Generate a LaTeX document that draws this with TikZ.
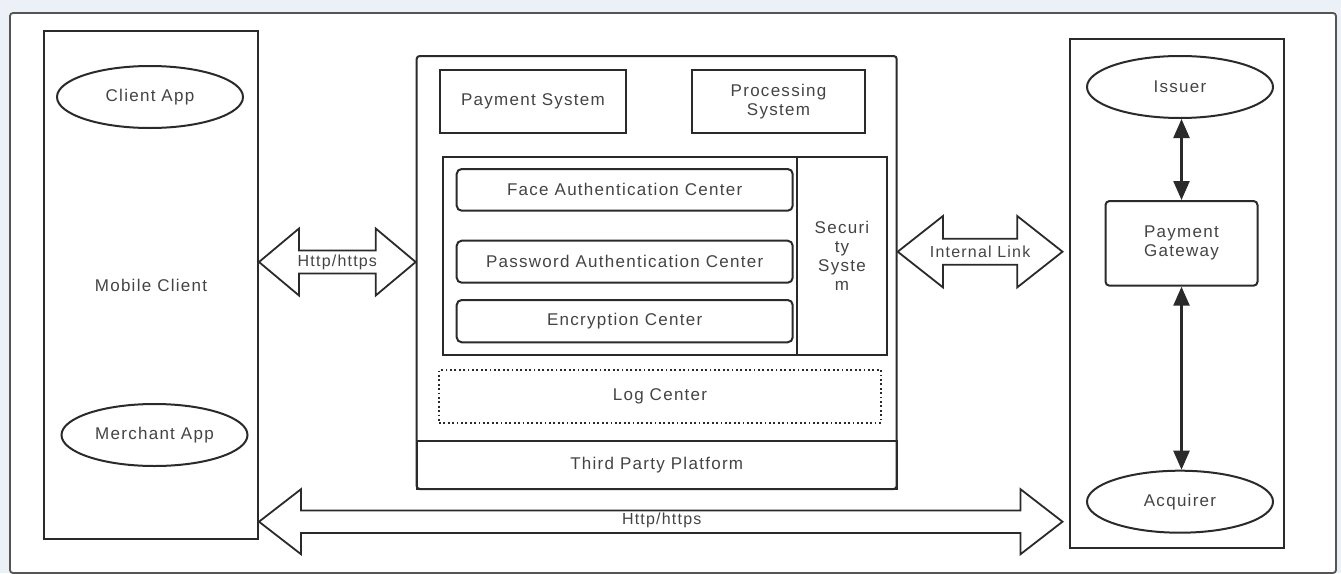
\documentclass[tikz,border=0pt]{standalone}
\usepackage{fontspec}
\setmainfont{Liberation Sans}[LetterSpace=7.5]
\usetikzlibrary{shapes.geometric,arrows.meta,calc}
\definecolor{linec}{HTML}{2A2A2A}
\definecolor{textc}{HTML}{444444}
\definecolor{bgc}{HTML}{EBF1F7}
\definecolor{framec}{HTML}{555555}
\newcommand\fsn{\fontsize{17}{19}\selectfont}
\newcommand\fsl{\fontsize{16}{19}\selectfont}
\newcommand\fatarrow[5]{%
  \draw[fatarr] let \p1=#1, \p2=#2, \n1={\x2-\x1-2*#3} in
  (\p1) -- ++(#3pt,#4pt) -- ++(0pt,{(#5-#4)*1pt}) -- ++({\n1*1pt},0pt)
  -- ++(0pt,{(#4-#5)*1pt}) -- (\p2) -- ++(-#3pt,-#4pt) -- ++(0pt,{(#4-#5)*1pt})
  -- ++({-\n1*1pt},0pt) -- ++(0pt,{(#5-#4)*1pt}) -- cycle;}
\tikzset{
  base/.style={inner sep=0pt, align=center, text=textc, font=\fsn},
  box/.style={base, draw=linec, line width=2pt, rectangle},
  rbox/.style={box, rounded corners=5pt},
  oval/.style={base, draw=linec, line width=2pt, ellipse, minimum width=186pt, minimum height=62pt},
  fatarr/.style={draw=linec, line width=1.8pt, fill=white, line join=miter},
  lbl/.style={base, font=\fsl},
  dbl/.style={draw=linec, line width=2.4pt, {Triangle[length=19pt,width=16pt]}-{Triangle[length=19pt,width=16pt]}},
}
\begin{document}
\begin{tikzpicture}[x=1pt,y=-1pt]
\useasboundingbox[fill=bgc] (0,0) rectangle (1341,573);
\node[draw=framec, fill=white, line width=1.8pt, rounded corners=3pt, inner sep=0pt,
  minimum width=1326pt, minimum height=560pt] (frame) at (673,293) {};

% Mobile client
\node[box, minimum width=214pt, minimum height=508pt] (mc) at (151,285) {Mobile Client};
\node[oval] (ca) at (150,97) {Client App};
\node[oval] (ma) at (154.5,435) {Merchant App};

% Third party platform
\node[box, rounded corners=3pt, minimum width=480pt, minimum height=433pt] (tp) at (656.7,272.5) {};
\node[box, minimum width=480pt, minimum height=48pt] (tpl) at (656.7,465) {Third Party Platform};
\node[box, minimum width=186pt, minimum height=63pt] (ps) at (533,101.5) {Payment System};
\node[box, minimum width=173pt, minimum height=63pt] (prs) at (778.5,101.5) {Processing\\System};
\node[box, minimum width=444pt, minimum height=198.3pt] (sec) at (664.7,255.85) {};
\node[box, minimum width=89.4pt, minimum height=198.3pt] (ss) at (842,255.85) {Securi\\ty\\Syste\\m};
\node[rbox, minimum width=336pt, minimum height=41.7pt] (fac) at (624.7,189.85) {Face Authentication Center};
\node[rbox, minimum width=336pt, minimum height=42pt] (pac) at (624.7,261.7) {Password Authentication Center};
\node[rbox, minimum width=336pt, minimum height=42.3pt] (enc) at (624.7,321.15) {Encryption Center};
\node[base, draw=linec, line width=2pt, dash pattern=on 1.8pt off 2.6pt, minimum width=442pt, minimum height=52.7pt] (log) at (660,396.35) {Log Center};

% Right side
\node[box, minimum width=214.3pt, minimum height=508.7pt] (rb) at (1177.15,293.35) {};
\node[oval] (iss) at (1180,87) {Issuer};
\node[rbox, rounded corners=4pt, minimum width=152pt, minimum height=84.7pt] (pg) at (1181.5,243.35) {Payment\\Gateway};
\node[oval] (acq) at (1180,501.7) {Acquirer};
\draw[dbl] (iss.south -| pg.north) -- (pg.north);
\draw[dbl] (pg.south) -- (acq.north -| pg.south);

% fat arrows
\coordinate (h1) at (0,262);
\coordinate (h2) at (0,251.7);
\coordinate (h3) at (0,521.7);
\coordinate (rbl) at ([xshift=-6.5pt]rb.west);
\fatarrow{(mc.east |- h1)}{(tp.west |- h1)}{40}{33.5}{11.5}
\node[lbl] (l1) at ($(mc.east |- h1)!0.5!(tp.west |- h1)$) {Http/https};
\fatarrow{(tp.east |- h2)}{(rbl |- h2)}{45.3}{35.7}{13}
\node[lbl] (l2) at ($(tp.east |- h2)!0.5!(rbl |- h2)$) {Internal Link};
\fatarrow{(mc.east |- h3)}{(rbl |- h3)}{42}{32.5}{11.3}
\node[lbl] (l3) at (661.7,520) {Http/https};
\end{tikzpicture}
\end{document}
